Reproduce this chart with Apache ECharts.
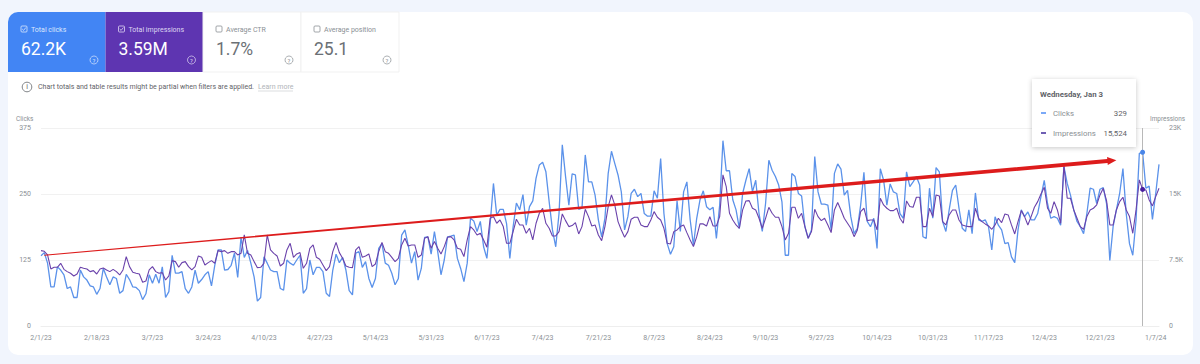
<!DOCTYPE html>
<html>
<head>
<meta charset="utf-8">
<title>Search performance</title>
<script src="https://cdn.jsdelivr.net/npm/echarts@6/dist/echarts.min.js"></script>
<style>
  html, body { margin: 0; padding: 0; background: #f1f5fd; }
  #chart { width: 1200px; height: 364px; }
</style>
</head>
<body>
<div id="chart"></div>
<script>
// daily clicks, 2/1/23 onwards
const clicks = [
  133,139,119,74,74,112,106,97,71,74,
  54,54,106,93,87,76,74,60,71,109,
  93,78,93,90,62,67,98,88,74,73,
  67,50,61,97,81,98,81,112,54,65,
  134,100,100,103,71,62,74,106,81,88,
  97,103,76,115,144,144,106,107,115,138,
  92,168,130,143,119,93,47,54,131,119,
  106,103,103,71,68,125,119,115,125,134,
  62,71,125,97,111,111,103,62,56,106,
  136,120,130,106,67,59,138,141,111,122,
  90,73,90,147,156,119,115,100,78,90,
  172,182,153,119,141,87,109,168,169,136,
  179,141,97,125,169,170,172,128,109,84,
  119,204,199,179,198,150,128,194,270,210,
  221,221,194,128,188,233,220,249,191,226,
  237,280,305,310,292,235,182,150,213,343,
  283,229,288,286,221,223,324,273,273,248,
  201,169,204,289,331,308,286,254,182,207,
  251,259,245,251,213,208,208,256,242,317,
  213,156,136,150,237,179,254,273,201,153,
  204,239,256,226,220,225,166,229,351,294,
  294,239,220,185,251,276,298,254,276,213,
  179,232,314,295,283,267,235,134,134,289,
  283,251,246,188,166,182,321,254,231,231,
  229,182,289,307,297,248,257,207,175,185,
  229,291,198,188,204,147,298,276,229,269,
  254,251,213,204,292,264,273,283,267,169,
  166,261,204,300,292,198,179,220,257,267,
  223,185,179,220,175,252,201,198,201,188,
  144,207,191,182,156,158,131,120,182,220,
  207,216,201,201,213,245,276,232,204,207,
  204,191,302,270,248,220,198,188,175,213,
  261,259,232,259,262,232,124,188,220,251,
  298,213,156,134,201,327,329,261,265,202,
  251,306
];
const impressions = [
  8565,8490,8070,6480,6670,6670,7125,6440,6180,5990,
  5685,5910,6670,6560,6480,6180,6290,5910,6480,6595,
  6370,6180,6440,6180,5800,6370,7880,6745,6100,5990,
  5910,4965,5115,6370,6745,6180,5990,6065,5230,5685,
  7430,7315,6670,7200,7315,6745,6370,6745,7960,7810,
  6935,7200,7430,7125,8565,8450,8565,8260,8450,8450,
  8070,8260,10345,8260,8070,7315,6630,6670,7125,10345,
  8640,8260,7960,6820,7125,8640,9400,7805,8185,8340,
  6555,7125,8830,9210,7805,7580,6935,6290,6745,8450,
  9510,8340,7695,6820,6670,6630,8640,9020,7805,7960,
  8185,6745,7050,8450,9510,8450,8260,7805,7315,7695,
  9210,9970,9095,9210,9210,7805,8070,9970,10155,8830,
  9590,8830,8185,9020,10080,10155,9780,8830,8715,7885,
  9780,11295,10915,10345,10535,9780,8945,12240,12430,11675,
  12050,11295,9400,9400,10725,12130,11485,11485,10535,11105,
  9780,11675,12810,13380,11675,11105,10235,10235,10725,12735,
  11975,11295,11410,11750,10460,11295,13265,12430,11370,11485,
  10345,9700,11295,13570,14895,13760,11865,10915,10080,10725,
  12130,12355,12355,11485,11295,11295,12050,13000,12355,12050,
  11105,9400,9325,10725,10915,11295,11485,10610,9780,9020,
  10155,11600,11600,11370,12430,11370,11370,12430,17170,15840,
  12810,12050,11485,11105,13190,14210,14250,13380,13190,12240,
  11105,12240,13490,12810,12355,12355,11295,9780,10535,13490,
  13490,12240,12810,11295,9970,10725,13265,12430,11975,12240,
  11485,10610,13190,14025,13190,12240,11675,11105,10155,10915,
  13000,13380,11975,12050,12050,10915,14515,13760,13380,13115,
  13115,13380,12240,11675,14210,13570,13490,14630,14630,11295,
  11295,13380,12430,14895,14780,11865,11485,12620,13190,13190,
  12050,11485,11370,11295,11295,13380,12240,11865,11600,11370,
  10990,11485,12240,11750,12735,12620,11485,10460,11865,13115,
  12430,11485,12430,13490,14135,15010,15765,13380,12810,14135,
  13190,11675,18305,14515,14515,13190,12240,11295,10990,12430,
  13190,13380,13760,14895,15650,14250,11485,11485,13190,14135,
  14630,13190,12430,10535,13190,16600,15524,15460,14325,13645,
  14705,15650
];
const clickTicks = { 0: "0", 125: "125", 250: "250", 375: "375" };
const impressionTicks = { 0: "0", 7500: "7.5K", 15000: "15K", 22500: "23K" };
const hoverIndex = 336; // Jan 3
const trendDays = [1, 328];
const trendClicks = [134, 314];

const FONT = "Roboto, 'Noto Sans', sans-serif";
const days = clicks.map((_, i) => {
  const d = new Date(Date.UTC(2023, 1, 1 + i));
  return (d.getUTCMonth() + 1) + "/" + d.getUTCDate() + "/" + String(d.getUTCFullYear()).slice(2);
});

const label = (x, y, text, size, fill, extra) => ({
  type: "text", x, y, z: 30,
  style: Object.assign({ text, fontSize: size, fill, fontFamily: FONT, verticalAlign: "middle" }, extra || {}),
});
const box = (x, y, width, height, fill, extra) => ({
  type: "rect", z: (extra && extra.z) || -1,
  shape: Object.assign({ x, y, width, height }, extra && extra.shape),
  style: Object.assign({ fill }, extra && extra.style),
});
const checkbox = (x, y, color, checked) => {
  const els = [{ type: "rect", z: 30, shape: { x, y, width: 6, height: 6, r: 1 }, style: { fill: "none", stroke: color, lineWidth: 0.8 } }];
  if (checked) {
    els.push({ type: "polyline", z: 30, shape: { points: [[x + 1.2, y + 3], [x + 2.6, y + 4.4], [x + 4.9, y + 1.5]] }, style: { fill: "none", stroke: color, lineWidth: 0.8 } });
  }
  return els;
};
const helpIcon = (cx, cy, color) => [
  { type: "circle", z: 30, shape: { cx, cy, r: 4 }, style: { fill: "none", stroke: color, lineWidth: 0.7 } },
  label(cx, cy + 0.3, "?", 6, color, { align: "center" }),
];
const tab = (x, width, fill, title, value, titleColor, valueColor, checked, extra) => [
  box(x, 12, width, 60, fill, extra),
  ...checkbox(x + 13, 26, titleColor, checked),
  label(x + 23, 29.5, title, 7, titleColor),
  label(x + 13, 49, value, 17.5, valueColor),
  ...helpIcon(x + 86, 60, titleColor),
];

const GREY = "#8a8f94";
const graphics = [
  box(8, 12, 1185, 343, "#ffffff", { z: -2, shape: { r: 10 } }),
  ...tab(8, 97.5, "#4285f4", "Total clicks", "62.2K", "#dbe7fd", "#ffffff", true, { shape: { r: [10, 0, 0, 0] } }),
  ...tab(105.5, 97.5, "#5e35b1", "Total impressions", "3.59M", "#ded5f2", "#ffffff", true),
  ...tab(203, 98, "#ffffff", "Average CTR", "1.7%", GREY, "#6b7075", false, { style: { stroke: "#f1f1f1", lineWidth: 1 } }),
  ...tab(301, 98, "#ffffff", "Average position", "25.1", GREY, "#6b7075", false, { style: { stroke: "#f1f1f1", lineWidth: 1 } }),
  { type: "circle", z: 30, shape: { cx: 27, cy: 87, r: 4.8 }, style: { fill: "none", stroke: "#5f6368", lineWidth: 0.8 } },
  label(27, 87.3, "i", 7, "#5f6368", { align: "center" }),
  label(38, 87, "Chart totals and table results might be partial when filters are applied.", 7, "#5f6368"),
  label(258, 87, "Learn more", 7, "#b0b4b8"),
  { type: "line", z: 30, shape: { x1: 258, y1: 91, x2: 293, y2: 91 }, style: { stroke: "#c4c7ca", lineWidth: 0.6 } },
  label(16, 119, "Clicks", 6.5, GREY),
  label(1150, 119, "Impressions", 6.4, GREY),
  // hover card
  box(1032, 79, 104, 68, "#ffffff", { z: 20, style: { shadowBlur: 5, shadowColor: "rgba(0,0,0,0.22)", shadowOffsetY: 1 } }),
  label(1040, 94, "Wednesday, Jan 3", 7.8, "#5f6368", { fontWeight: "bold" }),
  { type: "rect", z: 30, shape: { x: 1041, y: 112.3, width: 5, height: 1.4 }, style: { fill: "#4285f4" } },
  label(1053, 113, "Clicks", 7.8, GREY),
  label(1127, 113, String(clicks[hoverIndex]), 7.8, "#5f6368", { align: "right" }),
  { type: "rect", z: 30, shape: { x: 1041, y: 132.3, width: 5, height: 1.4 }, style: { fill: "#311b92" } },
  label(1053, 133, "Impressions", 7.8, GREY),
  label(1127, 133, impressions[hoverIndex].toLocaleString("en-US"), 7.8, "#5f6368", { align: "right" }),
];

// tapered red trend arrow
const renderArrow = (params, api) => {
  if (params.dataIndex !== 0) return null;
  const [x0, y0] = api.coord([trendDays[0], trendClicks[0]]);
  const [x1, y1] = api.coord([trendDays[1], trendClicks[1]]);
  const a = Math.atan2(y1 - y0, x1 - x0);
  const nx = -Math.sin(a), ny = Math.cos(a);
  const ux = Math.cos(a), uy = Math.sin(a);
  const headLen = 9, bx = x1 - ux * headLen, by = y1 - uy * headLen;
  return {
    type: "polygon",
    shape: {
      points: [
        [x0 + nx * 0.5, y0 + ny * 0.5],
        [bx + nx * 2, by + ny * 2],
        [bx + nx * 4, by + ny * 4],
        [x1, y1],
        [bx - nx * 4, by - ny * 4],
        [bx - nx * 2, by - ny * 2],
        [x0 - nx * 0.5, y0 - ny * 0.5],
      ],
    },
    style: { fill: "#dd1c1c" },
  };
};

const chart = echarts.init(document.getElementById("chart"), null, { renderer: "svg" });
chart.setOption({
  animation: false,
  backgroundColor: "transparent",
  textStyle: { fontFamily: FONT },
  grid: { left: 41, right: 41, top: 128, height: 198 },
  graphic: { elements: graphics },
  xAxis: {
    type: "category",
    data: days,
    boundaryGap: false,
    axisTick: { show: false },
    axisLine: { lineStyle: { color: "#eeeeee" } },
    axisLabel: { interval: (i) => i % 17 === 0, color: GREY, fontSize: 7, margin: 8, hideOverlap: false },
  },
  yAxis: [
    {
      type: "value", min: 0, max: 375, interval: 125,
      axisLine: { show: false }, axisTick: { show: false },
      axisLabel: { color: GREY, fontSize: 7, margin: 10, formatter: (v) => clickTicks[v] },
      splitLine: { lineStyle: { color: "#f1f1f1" } },
    },
    {
      type: "value", min: 0, max: 22500, interval: 7500, position: "right",
      axisLine: { show: false }, axisTick: { show: false },
      axisLabel: { color: GREY, fontSize: 7, margin: 10, formatter: (v) => impressionTicks[v] },
      splitLine: { show: false },
    },
  ],
  series: [
    {
      name: "Clicks", type: "line", data: clicks, showSymbol: false, z: 3,
      lineStyle: { color: "#5b92ea", width: 1.3 },
      markLine: {
        silent: true, symbol: "none", label: { show: false },
        lineStyle: { color: "#b8b8b8", width: 1, type: "solid" },
        data: [{ xAxis: days[hoverIndex] }],
      },
      markPoint: {
        silent: true, symbol: "circle", symbolSize: 5, label: { show: false },
        itemStyle: { color: "#4a86e8" },
        data: [{ coord: [days[hoverIndex], clicks[hoverIndex]] }],
      },
    },
    {
      name: "Impressions", type: "line", yAxisIndex: 1, data: impressions, showSymbol: false, z: 4,
      lineStyle: { color: "#6a42ab", width: 1.1 },
      markPoint: {
        silent: true, symbol: "circle", symbolSize: 5, label: { show: false },
        itemStyle: { color: "#4a1fa0" },
        data: [{ coord: [days[hoverIndex], impressions[hoverIndex]] }],
      },
    },
    {
      name: "Trend", type: "custom", z: 6, renderItem: renderArrow, silent: true,
      encode: { x: 0, y: 1 },
      data: trendDays.map((d, i) => [d, trendClicks[i]]),
    },
  ],
});
window.addEventListener("resize", () => chart.resize());
</script>
</body>
</html>
